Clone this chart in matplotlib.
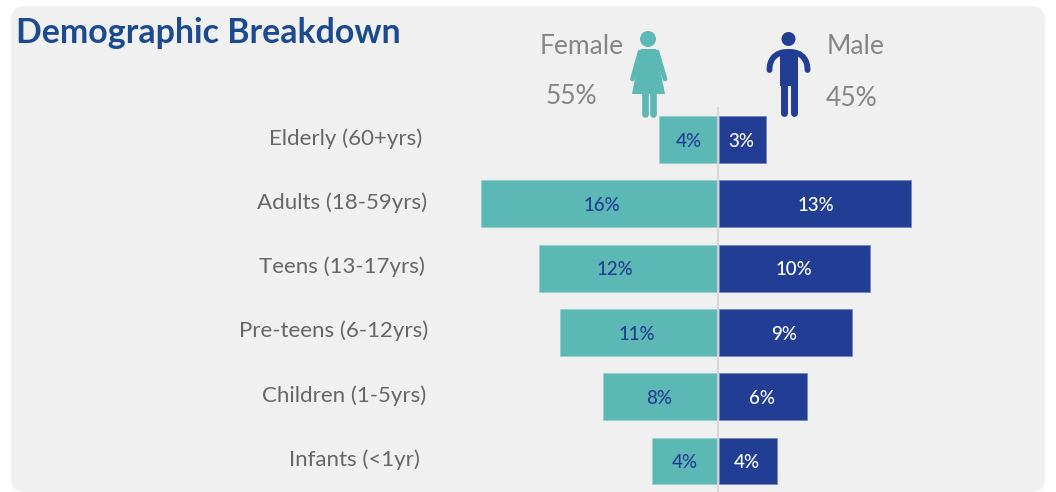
import matplotlib
matplotlib.use("Agg")
import matplotlib.pyplot as plt
from matplotlib.patches import Circle, FancyBboxPatch, Polygon, Rectangle
from matplotlib.path import Path
from matplotlib.patches import PathPatch

W, H = 1056, 492

categories = ["Elderly (60+yrs)", "Adults (18-59yrs)", "Teens (13-17yrs)",
              "Pre-teens (6-12yrs)", "Children (1-5yrs)", "Infants (<1yr)"]
female = [3.95, 16.1, 12.15, 10.7, 7.8, 4.45]
male = [3.2, 13.05, 10.25, 9.05, 6.0, 3.95]
female_labels = ["4%", "16%", "12%", "11%", "8%", "4%"]
male_labels = ["3%", "13%", "10%", "9%", "6%", "4%"]
female_total = "55%"
male_total = "45%"

TEAL = "#5cb8b4"
NAVY = "#223d94"
GREY = "#666666"
HEAD = "#858585"
PANEL = "#f0f0f0"

plt.rcParams["font.family"] = ["Lato", "DejaVu Sans"]

fig = plt.figure(figsize=(W / 100, H / 100), dpi=100, facecolor="white")

# pixel layer: panel, title, gender icons
bg = fig.add_axes([0, 0, 1, 1])
bg.set_xlim(0, W)
bg.set_ylim(H, 0)
bg.axis("off")
bg.add_patch(FancyBboxPatch((11, 6), 1034, 486, boxstyle="round,pad=0,rounding_size=14",
                            fc=PANEL, ec="none", lw=0))
bg.text(16, 33, "Demographic Breakdown", fontsize=24.4, fontweight="bold",
        color="#1b4a8f", va="center", ha="left")
bg.text(582, 47, "Female", fontsize=19, color=HEAD, va="center", ha="center")
bg.text(571, 97, female_total, fontsize=19, color=HEAD, va="center", ha="center")
bg.text(856, 47, "Male", fontsize=19, color=HEAD, va="center", ha="center")
bg.text(852, 99, male_total, fontsize=19, color=HEAD, va="center", ha="center")

# female icon
bg.add_patch(Circle((648, 39), 8, fc=TEAL, ec="none"))
bg.add_patch(Polygon([(641, 49), (656, 49), (665, 94), (632, 94)], fc=TEAL, ec="none"))
for xs, ys in [([640, 632.5], [52, 79]), ([657, 665], [52, 79])]:
    bg.plot(xs, ys, color=TEAL, lw=3.4, solid_capstyle="round")
for x in (644.5, 652.5):
    bg.plot([x, x], [92, 113.5], color=TEAL, lw=4.8, solid_capstyle="round")

# male icon
bg.add_patch(Circle((788.5, 39), 7, fc=NAVY, ec="none"))
arc = Path([(769.5, 70), (769.5, 50), (788.5, 52), (788.5, 52), (788.5, 52), (807.5, 50), (807.5, 70)],
           [Path.MOVETO, Path.CURVE4, Path.CURVE4, Path.CURVE4, Path.CURVE4, Path.CURVE4, Path.CURVE4])
bg.add_patch(PathPatch(arc, fc="none", ec=NAVY, lw=4.2, capstyle="round"))
bg.add_patch(Rectangle((780, 52), 17.5, 34, fc=NAVY, ec="none"))
for x in (783.5, 794):
    bg.plot([x, x], [80, 113], color=NAVY, lw=5, solid_capstyle="round")

# bar layer: one percent is 14.7 px, zero sits at x=718
ax = fig.add_axes([0, 0, 1, 1])
ax.patch.set_alpha(0)
ax.set_xlim(-718 / 14.7, (W - 718) / 14.7)
row0, step = 139.5, 64.3
ax.set_ylim((H - row0) / step, -row0 / step)
ax.axis("off")

rows = list(range(len(categories)))
ax.barh(rows, [-v for v in female], left=-0.03, height=0.73, color=TEAL, edgecolor="#8fd0cc", linewidth=0.5)
ax.barh(rows, male, left=0.08, height=0.73, color=NAVY, edgecolor="#6f82bd", linewidth=0.5)
ax.plot([0, 0], [-0.49, 5.5], color="#d4d4d4", lw=1.3, zorder=3)

label_x = [-2.0, -7.9, -7.0, -5.55, -4.0, -2.25]
male_x = [1.55, 6.65, 5.15, 4.5, 3.0, 1.95]
label_pos = [346, 342, 342, 334, 344, 354]
for i, cat in enumerate(categories):
    ax.text(label_x[i], i + 0.025, female_labels[i], color=NAVY, fontsize=13.5, fontweight="medium",
            ha="center", va="center")
    ax.text(male_x[i], i + 0.025, male_labels[i], color="white", fontsize=13.5, fontweight="medium",
            ha="center", va="center")
    ax.text((label_pos[i] - 718) / 14.7, i - 0.02, cat, color=GREY, fontsize=16,
            ha="center", va="center")

fig.savefig("out.png", dpi=100, facecolor="white")
